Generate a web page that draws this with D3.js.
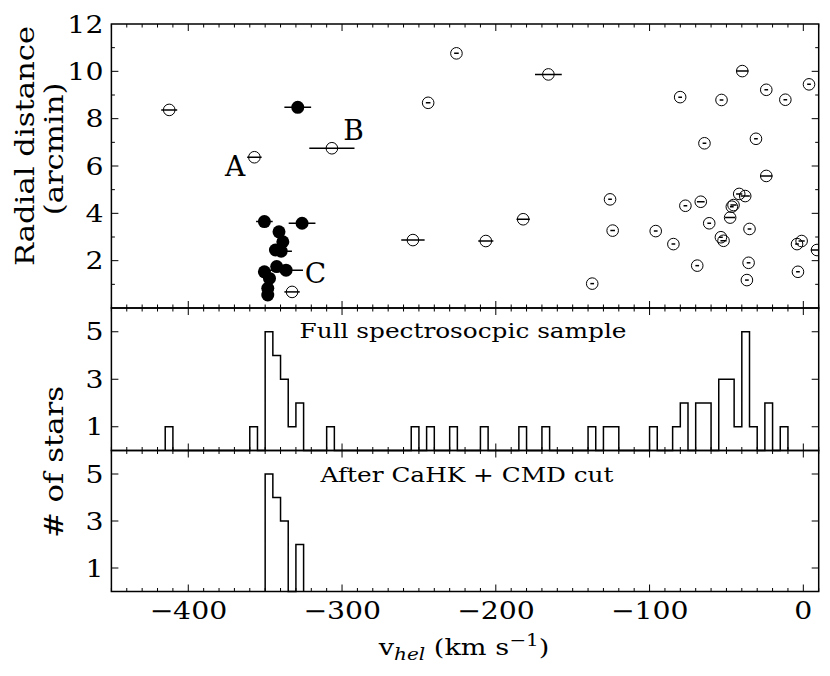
<!DOCTYPE html>
<html>
<head>
<meta charset="utf-8">
<script src="https://cdn.jsdelivr.net/npm/d3@7"></script>
<style>
  body { margin: 0; background: #fff; }
  text { font-family: "DejaVu Serif", "Liberation Serif", serif; fill: #000; }
</style>
</head>
<body>
<div id="app"></div>
<script>
// open circles: non-members (velocity, radius, velocity error)
const openV = [-412.4, -357, -306.6, -225.6, -244, -253.9, -332.5, -165.8, -182.2, -206.5,
  -125.7, -124, -137.3, -96, -84.5, -80.1, -76.7, -66.7, -69, -64.3,
  -61.2, -53.2, -53.6, -51.9, -47.6, -46.5, -45.4, -41.7, -37.8, -39.7,
  -35, -35.6, -36.7, -30.8, -24.1, -24.1, -11.7, -4.1, -1.1, -3.5, 3.7, 8.9]
const openR = [8.37, 6.37, 6.75, 10.76, 8.67, 2.87, 0.68, 9.87, 3.75, 2.83,
  4.59, 3.27, 1.03, 3.25, 2.7, 8.91, 4.32, 4.49, 1.79, 6.96,
  3.58, 8.79, 2.99, 2.84, 3.82, 4.28, 4.35, 4.82, 4.73, 10.01,
  3.34, 1.91, 1.18, 7.15, 9.22, 5.58, 8.8, 2.7, 2.83, 1.53, 9.45, 2.45]
const openErr = [5.2, 4.7, 14.7, 1.5, 1.5, 7.6, 5, 8.7, 4.3, 4.9,
  1.2, 1.5, 1.2, 1.2, 1.2, 1.2, 1.2, 2.5, 1.2, 1.2,
  1.2, 1.2, 1.2, 2, 3.3, 1.2, 2, 2, 3, 4,
  1.2, 1.2, 1.2, 1.2, 1.2, 4, 1.2, 1.2, 2, 1.2, 1.2, 4]

// filled circles: members
const memberV = [-328.8, -350.5, -326, -341, -338.5, -343.3, -339.6, -342.5, -350.5, -336.4, -347.2, -348.3, -348.3]
const memberR = [8.48, 3.65, 3.58, 3.22, 2.8, 2.45, 2.4, 1.75, 1.53, 1.6, 1.25, 0.83, 0.55]
const memberErr = [8.7, 5.4, 8.7, 2, 2, 3, 7, 2, 4, 11, 4, 2, 2]

// histograms, 5 km/s bins (bin start, count)
const fullBinStart = [-415, -360, -350, -345, -340, -335, -330, -310, -255, -245, -230,
  -210, -185, -170, -140, -130, -125, -100, -85, -80, -70, -65, -55, -50, -45, -40, -35, -25, -15]
const fullCount = [1, 1, 5, 4, 3, 1, 2, 1, 1, 1, 1,
  1, 1, 1, 1, 1, 1, 1, 1, 2, 2, 2, 3, 3, 1, 5, 1, 2, 1]
const cutBinStart = [-350, -345, -340, -330]
const cutCount = [5, 4, 3, 2]
const binWidth = 5

const xTicks = [-400, -300, -200, -100, 0]
const rTicks = [2, 4, 6, 8, 10, 12]
const nTicks = [1, 3, 5]

const width = 830
const height = 676
const sx = 1.18 // the source font is set wider than DejaVu Serif

const svg = d3.select('#app').append('svg')
  .attr('width', width)
  .attr('height', height)

const x = d3.scaleLinear().domain([-450, 10]).range([111.4, 818.7])
const yTop = d3.scaleLinear().domain([0, 12]).range([308, 24])
const yMid = d3.scaleLinear().domain([0, 6]).range([450.5, 308])
const yBot = d3.scaleLinear().domain([0, 6]).range([591.5, 450.5])

svg.append('clipPath').attr('id', 'clipTop')
  .append('rect')
  .attr('x', x.range()[0]).attr('y', yTop.range()[1])
  .attr('width', x.range()[1] - x.range()[0])
  .attr('height', yTop.range()[0] - yTop.range()[1])

const minorX = d3.range(-450, 11, 10)

function label(tx, ty, size, anchor, rot) {
  return svg.append('text')
    .attr('transform', `translate(${tx},${ty})` + (rot ? ' rotate(-90)' : '') + ` scale(${sx},1)`)
    .attr('text-anchor', anchor)
    .style('font-size', size + 'px')
}

// draw ticks on all four sides of a panel, pointing inward
function frame(y, majorY, minorY, showXLabels) {
  const g = svg.append('g')
  const x0 = x.range()[0], x1 = x.range()[1]
  const yb = y.range()[0], yt = y.range()[1]

  const tick = (x1_, y1_, x2_, y2_) => g.append('line')
    .attr('x1', x1_).attr('y1', y1_).attr('x2', x2_).attr('y2', y2_)
    .attr('stroke', '#000').attr('stroke-width', 1)

  minorX.forEach(v => {
    const len = xTicks.includes(v) ? 7 : 3.5
    tick(x(v), yb, x(v), yb - len)
    tick(x(v), yt, x(v), yt + len)
  })
  minorY.forEach(v => {
    const len = majorY.includes(v) ? 7 : 3.5
    tick(x0, y(v), x0 + len, y(v))
    tick(x1, y(v), x1 - len, y(v))
  })

  majorY.forEach(d => label(x0 - 8, y(d) + 8.5, 24, 'end').text(d))

  if (showXLabels) {
    xTicks.forEach(d => label(x(d), yb + 27.5, 24, 'middle')
      .text(d < 0 ? '\u2212' + Math.abs(d) : d))
  }

  g.append('rect')
    .attr('x', x0).attr('y', yt)
    .attr('width', x1 - x0).attr('height', yb - yt)
    .attr('fill', 'none').attr('stroke', '#000').attr('stroke-width', 1.5)
}

// top panel points
const pts = svg.append('g').attr('clip-path', 'url(#clipTop)')

const openData = openV.map((v, i) => ({ v: v, r: openR[i], e: openErr[i] }))
const memberData = memberV.map((v, i) => ({ v: v, r: memberR[i], e: memberErr[i] }))

pts.selectAll('.oerr').data(openData).enter().append('line')
  .attr('x1', d => x(d.v - d.e)).attr('x2', d => x(d.v + d.e))
  .attr('y1', d => yTop(d.r)).attr('y2', d => yTop(d.r))
  .attr('stroke', '#000').attr('stroke-width', 1.5)

pts.selectAll('.open').data(openData).enter().append('circle')
  .attr('cx', d => x(d.v)).attr('cy', d => yTop(d.r))
  .attr('r', 5.8)
  .attr('fill', 'none').attr('stroke', '#000').attr('stroke-width', 1)

pts.selectAll('.merr').data(memberData).enter().append('line')
  .attr('x1', d => x(d.v - d.e)).attr('x2', d => x(d.v + d.e))
  .attr('y1', d => yTop(d.r)).attr('y2', d => yTop(d.r))
  .attr('stroke', '#000').attr('stroke-width', 1.5)

pts.selectAll('.member').data(memberData).enter().append('circle')
  .attr('cx', d => x(d.v)).attr('cy', d => yTop(d.r))
  .attr('r', 6.5)
  .attr('fill', '#000')

const letters = [['A', -369.6, 5.58], ['B', -292.6, 7.1], ['C', -317.3, 1.06]]
svg.selectAll('.lbl').data(letters).enter().append('text')
  .attr('x', d => x(d[1])).attr('y', d => yTop(d[2]))
  .attr('text-anchor', 'middle')
  .style('font-size', '28px')
  .text(d => d[0])

// step histograms
function stepPoints(starts, counts) {
  const out = []
  starts.forEach((s, i) => {
    if (i === 0) out.push([s, 0])
    else if (starts[i - 1] + binWidth !== s) out.push([starts[i - 1] + binWidth, 0])
    out.push([s, counts[i]])
  })
  out.push([starts[starts.length - 1] + binWidth, 0])
  return out
}

function hist(y, starts, counts) {
  const line = d3.line()
    .x(d => x(d[0]))
    .y(d => y(d[1]))
    .curve(d3.curveStepAfter)
  svg.append('path')
    .attr('d', line(stepPoints(starts, counts)))
    .attr('fill', 'none')
    .attr('stroke', '#000')
    .attr('stroke-width', 1.5)
}

hist(yMid, fullBinStart, fullCount)
hist(yBot, cutBinStart, cutCount)

label(463, 338, 21, 'middle').text('Full spectrosocpic sample')
label(467, 482, 21, 'middle').text('After CaHK + CMD cut')

frame(yTop, rTicks, d3.range(1, 12, 1), false)
frame(yMid, nTicks, nTicks, false)
frame(yBot, nTicks, nTicks, true)

// axis titles
const xl = label(464, 655, 23, 'middle')
xl.append('tspan').text('v')
xl.append('tspan').attr('dy', 5).style('font-size', '17px').style('font-style', 'italic').text('hel')
xl.append('tspan').attr('dy', -5).text(' (km s')
xl.append('tspan').attr('dy', -9).style('font-size', '17px').text('\u22121')
xl.append('tspan').attr('dy', 9).text(')')

label(34, 146, 26, 'middle', true).text('Radial distance')
label(63, 149, 26, 'middle', true).text('(arcmin)')
label(63, 462, 26, 'middle', true).text('# of stars')
</script>
</body>
</html>
